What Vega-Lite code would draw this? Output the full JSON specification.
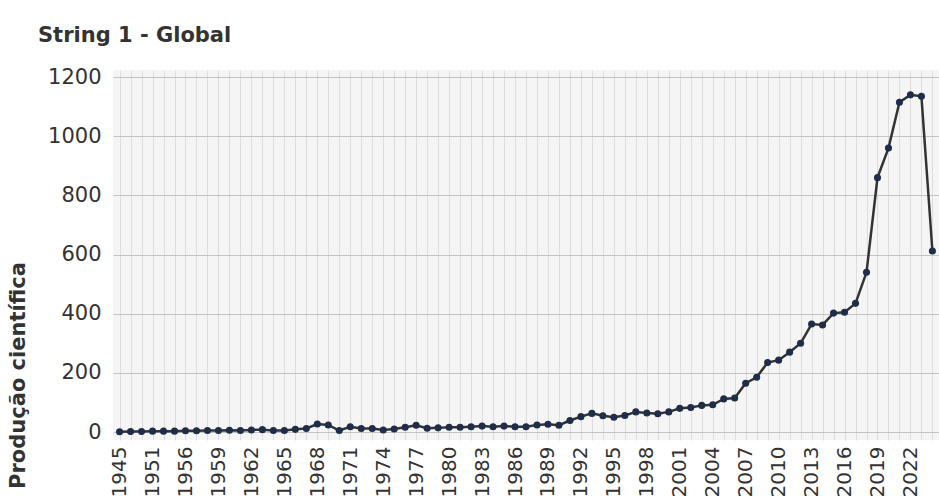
{
  "$schema": "https://vega.github.io/schema/vega-lite/v6.json",
  "width": 826,
  "height": 370,
  "autosize": "none",
  "padding": {"left": 113, "top": 70, "right": 0, "bottom": 64},
  "background": "white",
  "title": {"text": "String 1 - Global", "anchor": "start", "frame": "group", "dx": -75, "offset": 20, "font": "DejaVu Sans", "fontSize": 21, "fontWeight": "bold", "color": "#333333"},
  "config": {"view": {"fill": "#f5f5f5", "stroke": null}},
  "data": {"values": [
    {"ano": 1945, "producao": 1}, {"ano": 1947, "producao": 2}, {"ano": 1949, "producao": 2},
    {"ano": 1951, "producao": 3}, {"ano": 1953, "producao": 3}, {"ano": 1955, "producao": 3},
    {"ano": 1956, "producao": 4}, {"ano": 1957, "producao": 4}, {"ano": 1958, "producao": 5},
    {"ano": 1959, "producao": 5}, {"ano": 1960, "producao": 6}, {"ano": 1961, "producao": 5},
    {"ano": 1962, "producao": 7}, {"ano": 1963, "producao": 8}, {"ano": 1964, "producao": 5},
    {"ano": 1965, "producao": 5}, {"ano": 1966, "producao": 9}, {"ano": 1967, "producao": 12},
    {"ano": 1968, "producao": 27}, {"ano": 1969, "producao": 24}, {"ano": 1970, "producao": 5},
    {"ano": 1971, "producao": 18}, {"ano": 1972, "producao": 12}, {"ano": 1973, "producao": 12},
    {"ano": 1974, "producao": 7}, {"ano": 1975, "producao": 10}, {"ano": 1976, "producao": 16},
    {"ano": 1977, "producao": 23}, {"ano": 1978, "producao": 13}, {"ano": 1979, "producao": 14},
    {"ano": 1980, "producao": 16}, {"ano": 1981, "producao": 16}, {"ano": 1982, "producao": 18},
    {"ano": 1983, "producao": 20}, {"ano": 1984, "producao": 18}, {"ano": 1985, "producao": 20},
    {"ano": 1986, "producao": 18}, {"ano": 1987, "producao": 18}, {"ano": 1988, "producao": 24},
    {"ano": 1989, "producao": 26}, {"ano": 1990, "producao": 23}, {"ano": 1991, "producao": 39},
    {"ano": 1992, "producao": 52}, {"ano": 1993, "producao": 63}, {"ano": 1994, "producao": 55},
    {"ano": 1995, "producao": 50}, {"ano": 1996, "producao": 56}, {"ano": 1997, "producao": 68},
    {"ano": 1998, "producao": 64}, {"ano": 1999, "producao": 62}, {"ano": 2000, "producao": 68},
    {"ano": 2001, "producao": 80}, {"ano": 2002, "producao": 83}, {"ano": 2003, "producao": 90},
    {"ano": 2004, "producao": 92}, {"ano": 2005, "producao": 112}, {"ano": 2006, "producao": 115},
    {"ano": 2007, "producao": 165}, {"ano": 2008, "producao": 185}, {"ano": 2009, "producao": 235},
    {"ano": 2010, "producao": 243}, {"ano": 2011, "producao": 270}, {"ano": 2012, "producao": 300},
    {"ano": 2013, "producao": 365}, {"ano": 2014, "producao": 362}, {"ano": 2015, "producao": 402},
    {"ano": 2016, "producao": 405}, {"ano": 2017, "producao": 435}, {"ano": 2018, "producao": 540},
    {"ano": 2019, "producao": 860}, {"ano": 2020, "producao": 960}, {"ano": 2021, "producao": 1115},
    {"ano": 2022, "producao": 1140}, {"ano": 2023, "producao": 1135}, {"ano": 2024, "producao": 612}
  ]},
  "encoding": {
    "x": {
      "field": "ano", "type": "ordinal",
      "scale": {"type": "point", "padding": 0.6},
      "axis": {
        "title": null, "labelAngle": -90, "labelAlign": "right", "labelBaseline": "middle",
        "labelFont": "DejaVu Sans", "labelFontSize": 20, "labelColor": "#333333", "labelPadding": 6,
        "labelOverlap": false, "ticks": false, "domain": false,
        "grid": true, "gridColor": "#dddddd", "gridWidth": 1,
        "labelExpr": "indexof([1945,1951,1956,1959,1962,1965,1968,1971,1974,1977,1980,1983,1986,1989,1992,1995,1998,2001,2004,2007,2010,2013,2016,2019,2022], datum.value) >= 0 ? datum.label : ''"
      }
    },
    "y": {
      "field": "producao", "type": "quantitative",
      "scale": {"domain": [-27, 1224], "nice": false, "zero": false},
      "axis": {
        "title": "Produção científica", "values": [0, 200, 400, 600, 800, 1000, 1200], "format": "d",
        "grid": true, "gridColor": "#c4c4c4", "gridWidth": 1, "domain": false, "ticks": false,
        "labelFont": "DejaVu Sans", "labelFontSize": 21, "labelColor": "#333333", "labelPadding": 12,
        "titleFont": "DejaVu Sans", "titleFontSize": 21, "titleFontWeight": "bold", "titleColor": "#333333",
        "titleAngle": 270, "titleX": -95, "titleY": 305, "titleAlign": "center", "titleBaseline": "middle"
      }
    }
  },
  "layer": [
    {"mark": {"type": "line", "color": "#333333", "strokeWidth": 2.5}},
    {"mark": {"type": "point", "filled": true, "color": "#1f2d4a", "size": 50, "opacity": 1}}
  ]
}
